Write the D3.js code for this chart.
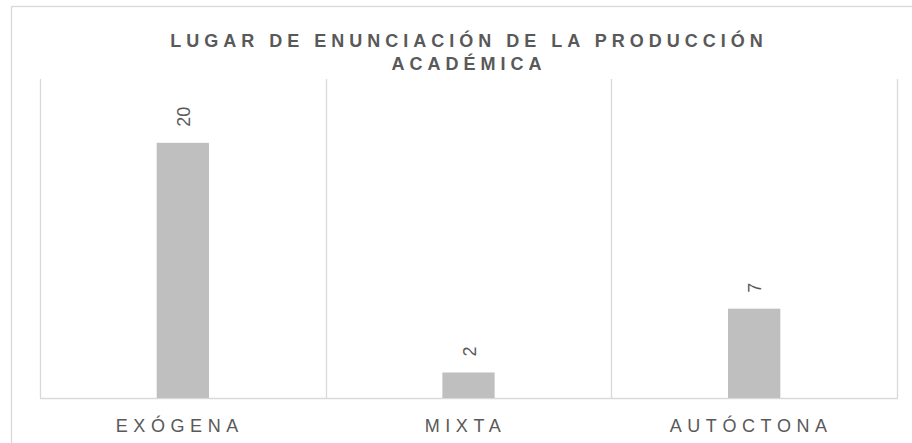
<!DOCTYPE html>
<html>
<head>
<meta charset="utf-8">
<script src="https://cdn.jsdelivr.net/npm/d3@7"></script>
<style>
  body { margin: 0; background: #fff; }
  text { font-family: Arial, "Liberation Sans", sans-serif; }
</style>
</head>
<body>
<div id="chart"></div>
<script>
const categories = ['EXÓGENA', 'MIXTA', 'AUTÓCTONA']
const values = [20, 2, 7]
const titleLines = ['LUGAR DE ENUNCIACIÓN DE LA PRODUCCIÓN', 'ACADÉMICA']

const width = 912, height = 443
const plot = {left: 40, right: 897, top: 79, bottom: 398}

let svg = d3.select('#chart').append('svg')
  .attr('width', width)
  .attr('height', height)

// outer chart border
svg.append('rect')
  .attr('x', 11.5).attr('y', 6.5)
  .attr('width', 930).attr('height', 460)
  .attr('fill', 'none')
  .attr('stroke', '#d9d9d9')
  .attr('stroke-width', 1.3)

let x = d3.scaleBand()
  .domain(categories)
  .range([plot.left, plot.right])
  .padding(0)

let y = d3.scaleLinear()
  .domain([0, 25])
  .range([plot.bottom, plot.top])

let barW = x.bandwidth() * 0.183

// vertical gridlines at category boundaries
let bounds = categories.map(c => x(c)).concat([x(categories[categories.length - 1]) + x.bandwidth()])
svg.append('g')
  .selectAll('line')
  .data(bounds)
  .enter()
  .append('line')
  .attr('x1', d => Math.round(d) + 0.5)
  .attr('x2', d => Math.round(d) + 0.5)
  .attr('y1', plot.top)
  .attr('y2', plot.bottom)
  .attr('stroke', '#d9d9d9')
  .attr('stroke-width', 1.3)

// baseline
svg.append('line')
  .attr('x1', plot.left).attr('x2', plot.right + 1)
  .attr('y1', plot.bottom + 0.5).attr('y2', plot.bottom + 0.5)
  .attr('stroke', '#d9d9d9')
  .attr('stroke-width', 1.3)

// bars
svg.append('g')
  .selectAll('rect')
  .data(values)
  .enter()
  .append('rect')
  .attr('x', (d, i) => x(categories[i]) + x.bandwidth() / 2 - barW / 2)
  .attr('y', d => y(d))
  .attr('width', barW)
  .attr('height', d => y(0) - y(d))
  .attr('fill', '#bfbfbf')

// rotated value labels
svg.append('g')
  .selectAll('text')
  .data(values)
  .enter()
  .append('text')
  .attr('transform', (d, i) => {
    let cx = x(categories[i]) + x.bandwidth() / 2 + 7
    return `translate(${cx},${y(d) - 16}) rotate(-90)`
  })
  .attr('text-anchor', 'start')
  .attr('font-size', 18)
  .attr('fill', '#595959')
  .text(d => d)

// category labels
svg.append('g')
  .selectAll('text')
  .data(categories)
  .enter()
  .append('text')
  .attr('x', d => x(d) + x.bandwidth() / 2 - 3)
  .attr('y', 432)
  .attr('text-anchor', 'middle')
  .attr('font-size', 18)
  .attr('letter-spacing', 5.6)
  .attr('fill', '#595959')
  .text(d => d)

// title
svg.append('g')
  .selectAll('text')
  .data(titleLines)
  .enter()
  .append('text')
  .attr('x', 469)
  .attr('y', (d, i) => 47 + i * 23)
  .attr('text-anchor', 'middle')
  .attr('font-size', 18)
  .attr('font-weight', 'bold')
  .attr('letter-spacing', 5.0)
  .attr('fill', '#595959')
  .text(d => d)
</script>
</body>
</html>
